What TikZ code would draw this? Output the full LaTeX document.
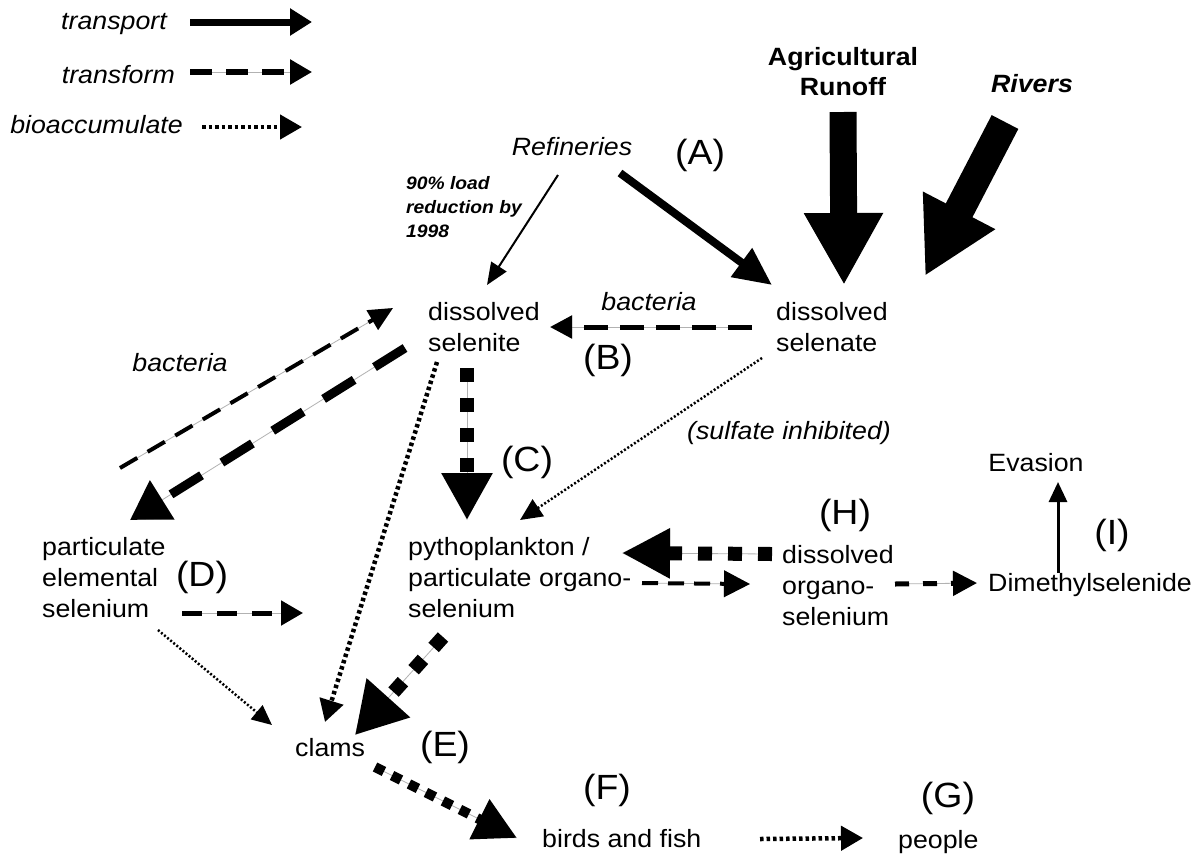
\documentclass[tikz,border=0pt]{standalone}
\usepackage{fontspec}
\setmainfont{Liberation Sans}[FakeStretch=1.07]
\usetikzlibrary{arrows.meta}
\tikzset{
  lbl/.style={inner sep=0pt, font=\fontsize{25}{31}\selectfont, align=left},
  ilbl/.style={lbl, font=\fontsize{25}{31}\selectfont\itshape},
  letter/.style={inner sep=0pt, font=\fontsize{35}{38}\selectfont},
  grayline/.style={preaction={draw=black!30, line width=0.8pt, solid}},
  tri/.style 2 args={-{Triangle[length=#1,width=#2]}},
  dashline/.style={grayline, line width=4pt, dash pattern=on 16pt off 10pt},
  dotline/.style={line width=4.5pt, dash pattern=on 3.5pt off 3pt},
  finedot/.style={line width=2.5pt, dash pattern=on 2pt off 2pt},
  squaredot/.style={grayline, line width=14pt, dash pattern=on 14pt off 16pt},
}
\begin{document}
\begin{tikzpicture}[x=1pt,y=-1pt]
\useasboundingbox[fill=white] (0,0) rectangle (1201,860);

% legend
\node[ilbl, anchor=east] (ltr) at (167,24) {transport};
\node[ilbl, anchor=east] (ltf) at (175,75) {transform};
\node[ilbl, anchor=east] (lbio) at (183,125) {bioaccumulate};
\coordinate (ltrE) at (312,22);
\coordinate (ltfE) at (312,72);
\coordinate (lbioE) at (302,127);
\draw[line width=7pt, tri={22}{26}] ([shift={(23,-2)}]ltr.east) -- (ltrE);
\draw[grayline, line width=5.5pt, dash pattern=on 22pt off 14pt, tri={22}{24}] ([shift={(15,-3)}]ltf.east) -- (ltfE);
\draw[dotline, tri={22}{24}] ([shift={(19,2)}]lbio.east) -- (lbioE);

% sources
\node[ilbl, anchor=center] (ref) at (572,147) {Refineries};
\node[inner sep=0pt, font=\fontsize{18}{24}\selectfont\itshape\bfseries, align=left, anchor=west] (load) at (406,207) {90\% load\\reduction by\\1998};
\node[lbl, anchor=center, align=center, font=\fontsize{25}{30}\selectfont\bfseries] (agri) at (843,72) {Agricultural\\Runoff};
\node[lbl, anchor=center, font=\fontsize{25}{30}\selectfont\bfseries\itshape] (rivers) at (1032,84) {Rivers};
\node[letter] (A) at (700,155) {(A)};

% dissolved species
\node[lbl, anchor=west] (sel) at (428,327) {dissolved\\selenite};
\node[lbl, anchor=west] (sela) at (776,327) {dissolved\\selenate};
\node[ilbl, anchor=center] (bact1) at (649,302) {bacteria};
\node[letter] (B) at (608,360) {(B)};
\node[ilbl, anchor=center] (bact2) at (180,363) {bacteria};
\node[letter] (C) at (527,462) {(C)};
\node[ilbl, anchor=center] (sulf) at (789,433) {(sulfate inhibited)};

\node[lbl, anchor=west] (phyto) at (408,578) {pythoplankton /\\particulate organo-\\selenium};
\node[letter] (H) at (845,515) {(H)};
\node[lbl, anchor=west] (organo) at (782,586) {dissolved\\organo-\\selenium};
\node[lbl, anchor=west] (dms) at (988,585) {Dimethylselenide};
\node[lbl, anchor=center] (evasion) at (1036,463) {Evasion};
\node[letter] (I) at (1112,535) {(I)};

\node[lbl, anchor=west] (part) at (42,578) {particulate\\elemental\\selenium};
\node[letter] (D) at (202,577) {(D)};
\coordinate (partE) at (303,613);

\node[lbl, anchor=west] (clams) at (295,748) {clams};
\node[letter] (E) at (445,747) {(E)};
\node[letter] (F) at (607,790) {(F)};
\node[lbl, anchor=west] (birds) at (542,839) {birds and fish};
\node[letter] (G) at (948,798) {(G)};
\node[lbl, anchor=west] (people) at (898,842) {people};

% transport arrows
\draw[line width=2pt, tri={22}{18}] ([shift={(-14,28)}]ref.center) -- ([shift={(59,-42)}]sel.west);
\draw[line width=8pt, tri={38}{34}] ([shift={(48,26)}]ref.center) -- ([shift={(-4,-42)}]sela.west);
\draw[line width=27pt, tri={72}{74}] ([shift={(0,40)}]agri.center) -- ([shift={(68,-42)}]sela.west);
\draw[line width=30pt, tri={74}{76}] ([shift={(-27,38)}]rivers.center) -- ([shift={(149,-51)}]sela.west);
\draw[line width=3pt, tri={20}{18}] ([shift={(70,-12)}]dms.west) -- ([shift={(22,19)}]evasion.center);

% transform arrows
\draw[grayline, line width=5pt, dash pattern=on 24pt off 12pt, tri={22}{22}] ([shift={(-24,0)}]sela.west) -- ([shift={(122,0)}]sel.west);
\draw[grayline, line width=4pt, dash pattern=on 20pt off 12pt, tri={24}{22}] ([shift={(78,-110)}]part.west) -- ([shift={(-35,-19)}]sel.west);
\draw[grayline, line width=9pt, dash pattern=on 36pt off 24pt, tri={38}{44}] ([shift={(-23,21)}]sel.west) -- ([shift={(88,-58)}]part.west);
\draw[dashline, tri={26}{26}] ([shift={(234,5)}]phyto.west) -- ([shift={(-32,-2)}]organo.west);
\draw[grayline, line width=5pt, dash pattern=on 14pt off 14pt, tri={24}{24}] ([shift={(113,-2)}]organo.west) -- ([shift={(-11,-2)}]dms.west);
\draw[grayline, line width=5pt, dash pattern=on 20pt off 15pt, tri={22}{24}] ([shift={(140,35)}]part.west) -- (partE);

% bioaccumulate arrows
\draw[squaredot, tri={47}{48}] ([shift={(39,41)}]sel.west) -- ([shift={(59,-58)}]phyto.west);
\draw[squaredot, tri={48}{47}] ([shift={(-10,-32)}]organo.west) -- ([shift={(214,-25)}]phyto.west);
\draw[squaredot, tri={50}{55}] ([shift={(35,59)}]phyto.west) -- ([shift={(60,-13)}]clams.west);
\draw[grayline, line width=10pt, dash pattern=on 10pt off 9pt, tri={42}{42}] ([shift={(80,19)}]clams.west) -- ([shift={(-25,-1)}]birds.west);
\draw[dotline, tri={22}{24}] ([shift={(9,35)}]sel.west) -- ([shift={(30,-26)}]clams.west);
\draw[finedot, tri={22}{20}] ([shift={(-14,31)}]sela.west) -- ([shift={(112,-58)}]phyto.west);
\draw[finedot, tri={20}{18}] ([shift={(116,52)}]part.west) -- ([shift={(-23,-23)}]clams.west);
\draw[dotline, tri={22}{24}] ([shift={(218,0)}]birds.west) -- ([shift={(-35,-4)}]people.west);
\end{tikzpicture}
\end{document}
